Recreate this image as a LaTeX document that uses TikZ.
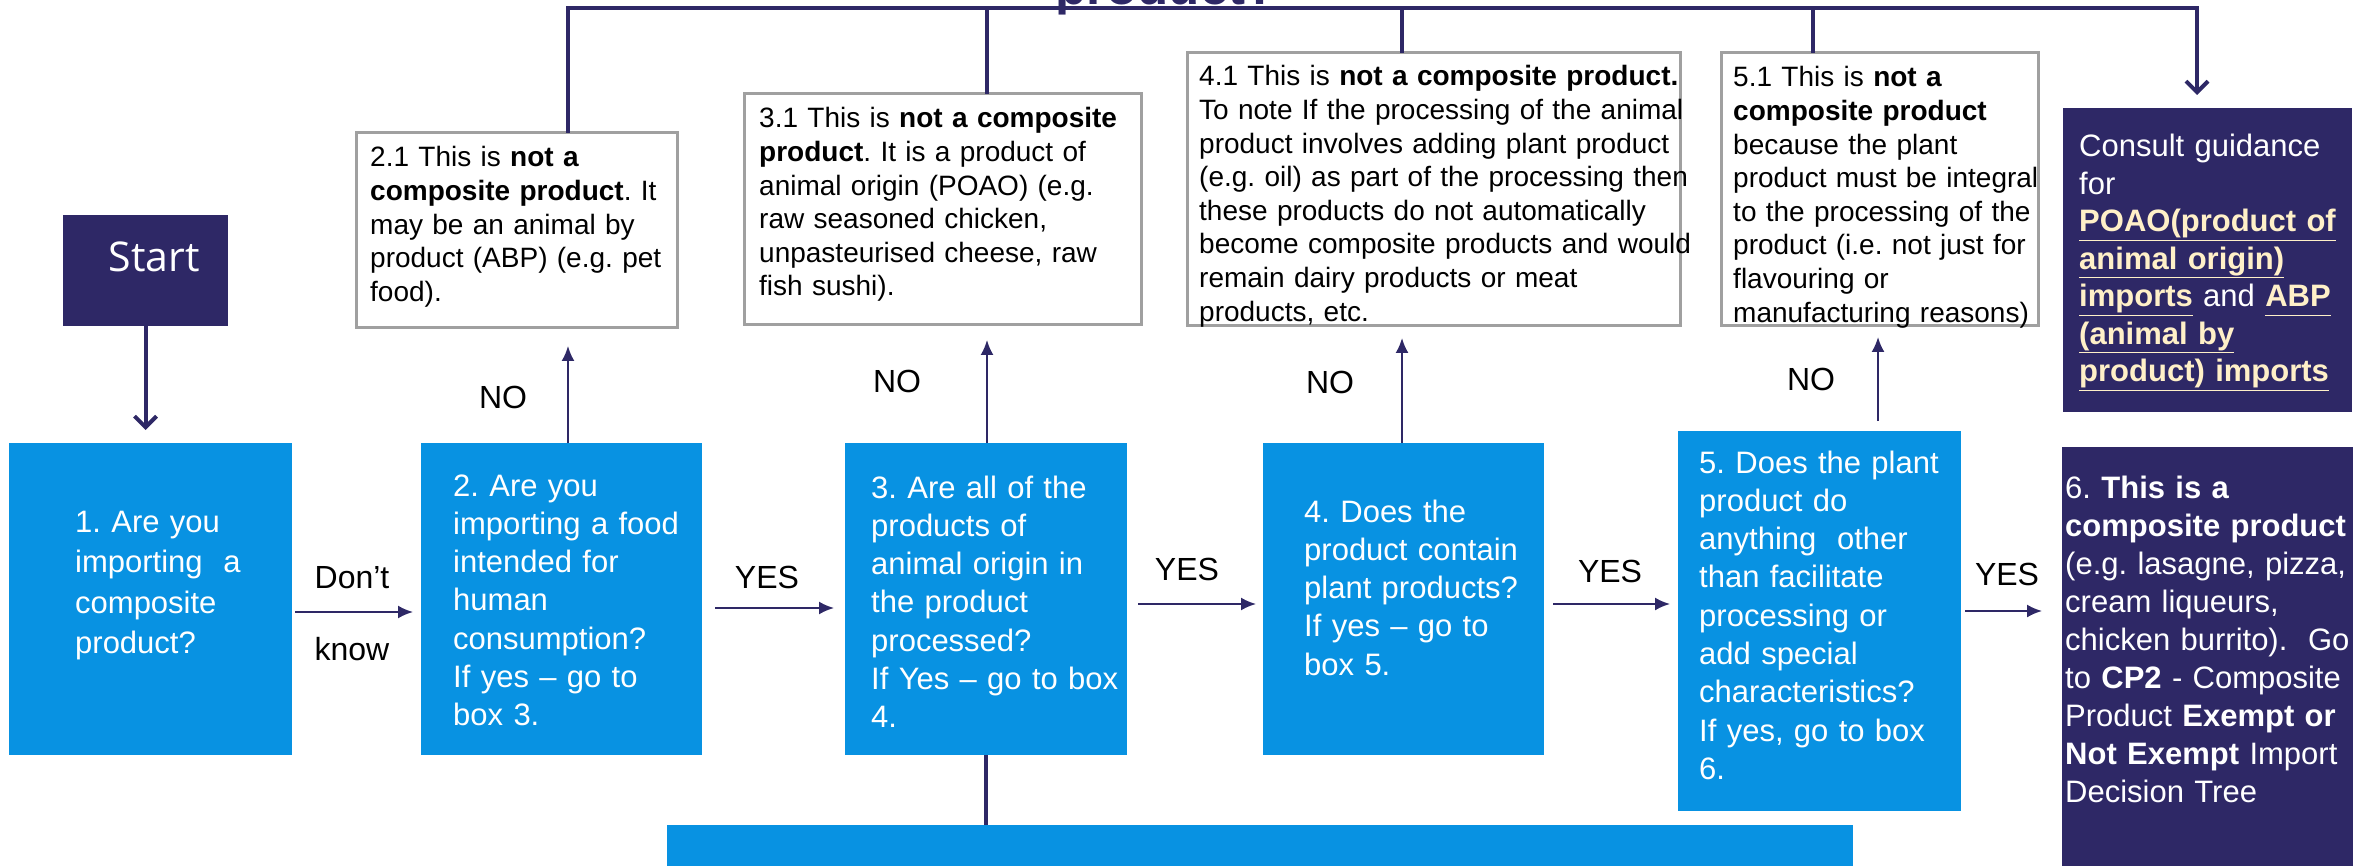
\documentclass[tikz,border=0pt]{standalone}
\usepackage{fontspec}
\setmainfont{Liberation Sans}
\newfontfamily\startfont{Open Sans}
\usetikzlibrary{arrows.meta}
\definecolor{navy}{RGB}{46,40,102}
\definecolor{boxblue}{RGB}{8,146,226}
\definecolor{cream}{RGB}{255,240,200}
\definecolor{boxgray}{RGB}{160,160,160}
\newcommand\lnk[1]{{\color{cream}\bfseries\underline{#1\vphantom{(p}}}}
\frenchspacing
\begin{document}
\begin{tikzpicture}[x=1pt,y=-1pt,
  bluebox/.style={fill=boxblue, draw=none, inner sep=0pt, outer sep=0pt},
  navybox/.style={fill=navy, draw=none, inner sep=0pt, outer sep=0pt},
  notebox/.style={fill=white, draw=boxgray, line width=3pt, inner sep=0pt, outer sep=0pt},
  qtext/.style={text=white, font=\fontsize{31}{38.3}\selectfont, align=left, text width=400pt, inner sep=0pt, anchor=base west},
  ntext/.style={text=black, font=\fontsize{28}{33.6}\selectfont, align=left, text width=600pt, inner sep=0pt, anchor=base west},
  lbl/.style={text=black, font=\fontsize{32}{38}\selectfont, inner sep=0pt, anchor=base},
  thinarrow/.style={draw=navy, line width=2pt, -{Latex[length=15pt,width=13pt]}},
  thickline/.style={draw=navy, line width=4pt},
  thickarrow/.style={draw=navy, line width=4pt, -{Straight Barb[length=11pt,width=22pt]}},
]
\useasboundingbox (0,0) rectangle (2377,866);
\clip (0,0) rectangle (2377,866);

% title (cut off at the top, as in the reference)
\node[text=navy, font=\bfseries\fontsize{51}{60}\selectfont, anchor=base, inner sep=0pt] (title) at (1166,5) {product?};

% boxes
\node[navybox, minimum width=165pt, minimum height=111pt] (start) at (145.5,270.5) {};
\node[bluebox, minimum width=283pt, minimum height=312pt] (b1) at (150.5,599) {};
\node[bluebox, minimum width=281pt, minimum height=312pt] (b2) at (561.5,599) {};
\node[bluebox, minimum width=282pt, minimum height=312pt] (b3) at (986,599) {};
\node[bluebox, minimum width=281pt, minimum height=312pt] (b4) at (1403.5,599) {};
\node[bluebox, minimum width=283pt, minimum height=380pt] (b5) at (1819.5,621) {};
\node[navybox, minimum width=291pt, minimum height=453pt] (b6) at (2207.5,673.5) {};
\node[notebox, minimum width=321pt, minimum height=195pt] (n21) at (516.5,230.5) {};
\node[notebox, minimum width=397pt, minimum height=231pt] (n31) at (942.5,209.5) {};
\node[notebox, minimum width=493pt, minimum height=273pt] (n41) at (1433.5,189.5) {};
\node[notebox, minimum width=317pt, minimum height=273pt] (n51) at (1879.5,189.5) {};
\node[navybox, minimum width=289pt, minimum height=304pt] (guide) at (2207.5,260) {};
\node[bluebox, minimum width=1186pt, minimum height=75pt] (bar) at (1260,862.5) {};

% helper coordinates
\coordinate (ya) at (0,612);
\coordinate (yb) at (0,608);
\coordinate (yc) at (0,604);
\coordinate (yd) at (0,611);
\coordinate (ytop) at (0,8);
\coordinate (cx2) at (568,0);
\coordinate (cx3) at (987,0);
\coordinate (cx4) at (1402,0);
\coordinate (cx5) at (1813,0);
\coordinate (cx5b) at (1878,0);
\coordinate (cx6) at (2197,0);

% connectors
\draw[thickarrow, shorten >=13pt] (start.south) -- (start.south |- b1.north);
\draw[thinarrow, shorten <=3pt, shorten >=8pt] (b1.east |- ya) -- (b2.west |- ya);
\draw[thinarrow, shorten <=13pt, shorten >=11pt] (b2.east |- yb) -- (b3.west |- yb);
\draw[thinarrow, shorten <=11pt, shorten >=7pt] (b3.east |- yc) -- (b4.west |- yc);
\draw[thinarrow, shorten <=9pt, shorten >=8pt] (b4.east |- yc) -- (b5.west |- yc);
\draw[thinarrow, shorten <=4pt, shorten >=20pt] (b5.east |- yd) -- (b6.west |- yd);

\draw[thinarrow, shorten >=18pt] (cx2 |- b2.north) -- (cx2 |- n21.south);
\draw[thinarrow, shorten >=15pt] (cx3 |- b3.north) -- (cx3 |- n31.south);
\draw[thinarrow, shorten >=12pt] (cx4 |- b4.north) -- (cx4 |- n41.south);
\draw[thinarrow, shorten <=10pt, shorten >=11pt] (cx5b |- b5.north) -- (cx5b |- n51.south);

\draw[thickarrow, shorten >=13pt] (cx2 |- n21.north) |- (cx6 |- ytop) -- (cx6 |- guide.north);
\draw[thickline] (cx3 |- n31.north) -- (cx3 |- ytop);
\draw[thickline] (cx4 |- n41.north) -- (cx4 |- ytop);
\draw[thickline] (cx5 |- n51.north) -- (cx5 |- ytop);
\draw[thickline] (b3.south) -- (b3.south |- bar.north);

% texts
\node[text=white, font=\startfont\fontsize{41}{48}\selectfont, anchor=base, inner sep=0pt] (tstart) at (154,272) {Start};

\node[qtext, font=\fontsize{31}{40.6}\selectfont] (t1) at (75,532) {1. Are you\\importing\ \ a\\composite\\product?};
\node[qtext] (t2) at (453,496) {2. Are you\\importing a food\\intended for\\human\\consumption?\\If yes – go to\\box 3.};
\node[qtext] (t3) at (871,498) {3. Are all of the\\products of\\animal origin in\\the product\\processed?\\If Yes – go to box\\4.};
\node[qtext] (t4) at (1304,522) {4. Does the\\product contain\\plant products?\\If yes – go to\\box 5.};
\node[qtext] (t5) at (1699,473) {5. Does the plant\\product do\\anything\ \ other\\than facilitate\\processing or\\add special\\characteristics?\\If yes, go to box\\6.};
\node[qtext, font=\fontsize{31}{38}\selectfont] (t6) at (2065,498) {6. \textbf{This is a}\\\textbf{composite product}\\(e.g. lasagne, pizza,\\cream liqueurs,\\chicken burrito).\ \ Go\\to \textbf{CP2} - Composite\\Product \textbf{Exempt or}\\\textbf{Not Exempt} Import\\Decision Tree};
\node[qtext, font=\fontsize{31}{37.5}\selectfont] (tg) at (2079,157) {Consult guidance\\for\\\lnk{POAO(product of}\\\lnk{animal origin)}\\\lnk{imports} and \lnk{ABP}\\\lnk{(animal by}\\\lnk{product) imports}};

\node[ntext] (t21) at (370,167) {2.1 This is \textbf{not a}\\\textbf{composite product}. It\\may be an animal by\\product (ABP) (e.g. pet\\food).};
\node[ntext] (t31) at (759,128) {3.1 This is \textbf{not a composite}\\\textbf{product}. It is a product of\\animal origin (POAO) (e.g.\\raw seasoned chicken,\\unpasteurised cheese, raw\\fish sushi).};
\node[ntext] (t41) at (1199,86) {4.1 This is \textbf{not a composite product.}\\To note If the processing of the animal\\product involves adding plant product\\(e.g. oil) as part of the processing then\\these products do not automatically\\become composite products and would\\remain dairy products or meat\\products, etc.};
\node[ntext] (t51) at (1733,87) {5.1 This is \textbf{not a}\\\textbf{composite product}\\because the plant\\product must be integral\\to the processing of the\\product (i.e. not just for\\flavouring or\\manufacturing reasons)};

% labels
\node[lbl] (l1a) at (352,588) {Don't};
\node[lbl] (l1b) at (352,660) {know};
\node[lbl] (y2) at (767,588) {YES};
\node[lbl] (y3) at (1187,580) {YES};
\node[lbl] (y4) at (1610,582) {YES};
\node[lbl] (y5) at (2007,585) {YES};
\node[lbl] (no2) at (503,408) {NO};
\node[lbl] (no3) at (897,392) {NO};
\node[lbl] (no4) at (1330,393) {NO};
\node[lbl] (no5) at (1811,391) {NO};
\end{tikzpicture}
\end{document}
